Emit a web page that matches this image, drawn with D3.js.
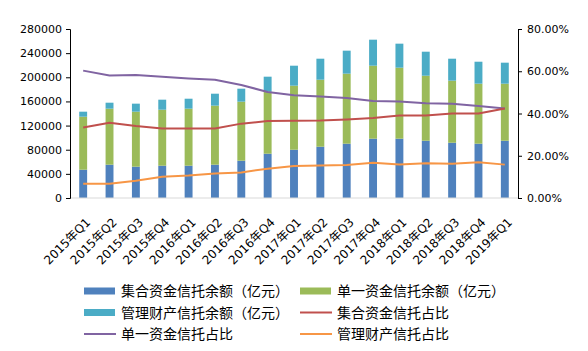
<!DOCTYPE html>
<html>
<head>
<meta charset="utf-8">
<script src="https://cdn.jsdelivr.net/npm/d3@7"></script>
<style>
  body { margin: 0; background: #fff; }
  svg { display: block; }
  text { font-family: "DejaVu Sans", "Noto Sans CJK SC", sans-serif; fill: #000; }
</style>
</head>
<body>
<svg id="chart" width="588" height="351"></svg>
<script>
// categorias (trimestres)
const quarters = ["2015年Q1","2015年Q2","2015年Q3","2015年Q4","2016年Q1","2016年Q2","2016年Q3","2016年Q4",
  "2017年Q1","2017年Q2","2017年Q3","2017年Q4","2018年Q1","2018年Q2","2018年Q3","2018年Q4","2019年Q1"];

// saldos (亿元)
const jihe    = [46900, 55200, 51900, 53500, 53500, 55200, 61800, 73400, 80000, 85000, 90000, 98300, 98300, 94900, 91600, 90000, 94900];
const danyi   = [87800, 92800, 91100, 92800, 94500, 97800, 97800, 102700, 106100, 111000, 116000, 120900, 117600, 107700, 102800, 99400, 94500];
const guanli  = [8300, 9900, 13300, 16600, 16500, 19800, 21500, 24900, 33100, 34800, 38100, 43100, 39800, 39800, 36400, 36400, 34800];

// percentagens
const jiheRatio   = [33.4, 35.6, 34.1, 32.9, 32.9, 32.9, 35.2, 36.4, 36.6, 36.7, 37.2, 37.9, 39.0, 39.1, 40.0, 40.0, 42.4];
const danyiRatio  = [60.3, 58.0, 58.2, 57.4, 56.6, 56.0, 53.5, 50.2, 48.6, 48.1, 47.3, 45.9, 45.7, 44.8, 44.6, 43.5, 42.4];
const guanliRatio = [6.8, 6.8, 8.2, 10.1, 10.7, 11.6, 12.1, 13.9, 15.1, 15.4, 15.6, 16.7, 15.9, 16.4, 16.2, 16.9, 15.8];

const leftTicks = [0, 40000, 80000, 120000, 160000, 200000, 240000, 280000];
const rightTicks = [0, 20, 40, 60, 80];

const colors = {
  jihe: "#4F81BD", danyi: "#9BBB59", guanli: "#4BACC6",
  jiheR: "#C0504D", danyiR: "#8064A2", guanliR: "#F79646"
};

const margin = { top: 29, left: 70, right: 70, bottom: 153 };
const W = 588, H = 351;
const innerW = W - margin.left - margin.right;
const innerH = H - margin.top - margin.bottom;

const svg = d3.select("#chart");
const g = svg.append("g").attr("transform", `translate(${margin.left},${margin.top})`);

const x = d3.scaleBand().domain(quarters).range([0, innerW]).padding(0);
const yL = d3.scaleLinear().domain([0, 280000]).range([innerH, 0]);
const yR = d3.scaleLinear().domain([0, 80]).range([innerH, 0]);

// barras empilhadas
const rows = quarters.map((q, i) => ({ q, jihe: jihe[i], danyi: danyi[i], guanli: guanli[i] }));
const stack = d3.stack().keys(["jihe", "danyi", "guanli"])(rows);
const barW = x.bandwidth() * 0.3;

g.selectAll("g.serie")
  .data(stack)
  .enter().append("g")
  .attr("fill", d => colors[d.key])
  .selectAll("rect")
  .data(d => d)
  .enter().append("rect")
  .attr("x", d => x(d.data.q) + x.bandwidth() / 2 - barW / 2)
  .attr("width", barW)
  .attr("y", d => yL(d[1]))
  .attr("height", d => yL(d[0]) - yL(d[1]));

// linhas
const line = d3.line()
  .x((d, i) => x(quarters[i]) + x.bandwidth() / 2)
  .y(d => yR(d));

[[danyiRatio, colors.danyiR], [jiheRatio, colors.jiheR], [guanliRatio, colors.guanliR]].forEach(([data, c]) => {
  g.append("path")
    .datum(data)
    .attr("fill", "none")
    .attr("stroke", c)
    .attr("stroke-width", 2)
    .attr("stroke-linejoin", "round")
    .attr("d", line);
});

// eixo x (linha cinza)
g.append("line")
  .attr("x1", 0).attr("x2", innerW)
  .attr("y1", innerH).attr("y2", innerH)
  .attr("stroke", "#D9D9D9").attr("stroke-width", 1);

g.selectAll("text.xl")
  .data(quarters)
  .enter().append("text")
  .attr("class", "xl")
  .attr("font-size", 12)
  .attr("text-anchor", "end")
  .attr("transform", d => `translate(${x(d) + x.bandwidth() / 2 + 8},${innerH + 25}) rotate(-45)`)
  .text(d => d);

// eixo esquerdo
const axL = g.append("g")
  .call(d3.axisLeft(yL).tickValues(leftTicks).tickSize(4).tickPadding(4).tickFormat(d3.format("d")));
axL.select(".domain").attr("stroke", "#000");
axL.selectAll("line").attr("stroke", "#000");
axL.selectAll("text").attr("font-size", 11).attr("font-family", "DejaVu Sans");

// eixo direito
const axR = g.append("g")
  .attr("transform", `translate(${innerW},0)`)
  .call(d3.axisRight(yR).tickValues(rightTicks).tickSize(4).tickPadding(5).tickFormat(d => d.toFixed(2) + "%"));
axR.select(".domain").attr("stroke", "#000");
axR.selectAll("line").attr("stroke", "#000");
axR.selectAll("text").attr("font-size", 11).attr("font-family", "DejaVu Sans");

// legenda
const legend = [
  { name: "集合资金信托余额（亿元）", color: colors.jihe, type: "bar" },
  { name: "单一资金信托余额（亿元）", color: colors.danyi, type: "bar" },
  { name: "管理财产信托余额（亿元）", color: colors.guanli, type: "bar" },
  { name: "集合资金信托占比", color: colors.jiheR, type: "line" },
  { name: "单一资金信托占比", color: colors.danyiR, type: "line" },
  { name: "管理财产信托占比", color: colors.guanliR, type: "line" }
];
const lg = svg.append("g");
legend.forEach((d, i) => {
  const cx = i % 2 === 0 ? 84 : 300;
  const cy = 291 + Math.floor(i / 2) * 21.5;
  if (d.type === "bar") {
    lg.append("rect").attr("x", cx).attr("y", cy - 3.5).attr("width", 31).attr("height", 7).attr("fill", d.color);
  } else {
    lg.append("line").attr("x1", cx).attr("x2", cx + 32).attr("y1", cy).attr("y2", cy)
      .attr("stroke", d.color).attr("stroke-width", 2);
  }
  lg.append("text")
    .attr("x", cx + 37).attr("y", cy)
    .attr("dy", "0.36em")
    .attr("font-size", 14)
    .style("font-family", "'Noto Sans CJK SC', sans-serif")
    .text(d.name);
});
</script>
</body>
</html>
